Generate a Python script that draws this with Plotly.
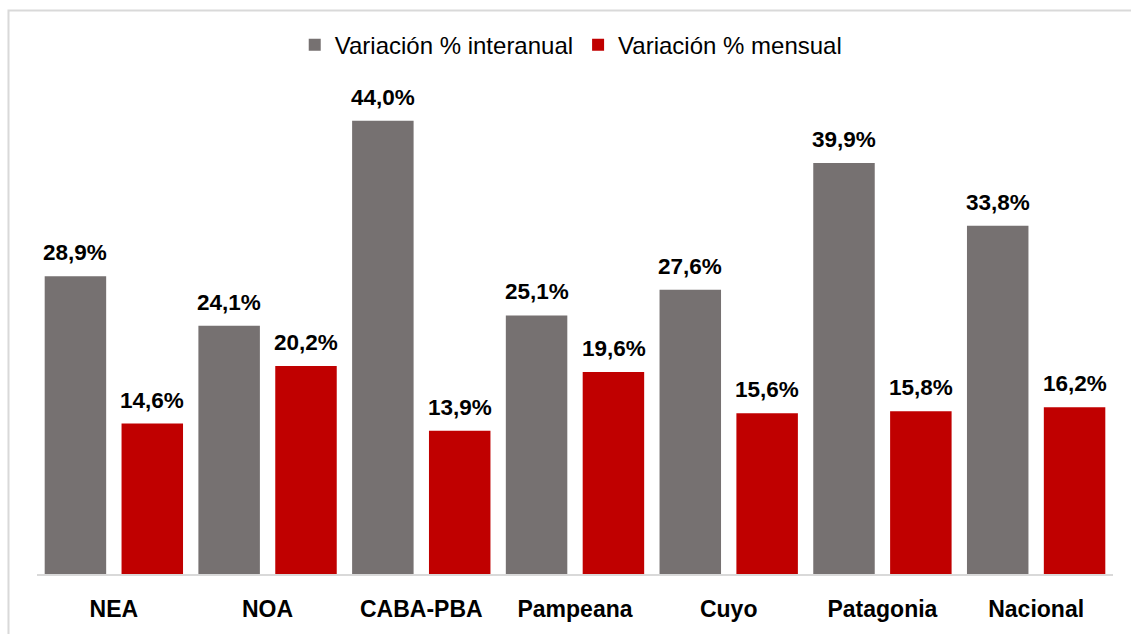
import plotly.graph_objects as go

categories = ["NEA", "NOA", "CABA-PBA", "Pampeana", "Cuyo", "Patagonia", "Nacional"]
interanual = [28.9, 24.1, 44.0, 25.1, 27.6, 39.9, 33.8]
mensual = [14.6, 20.2, 13.9, 19.6, 15.6, 15.8, 16.2]
series_names = ["Variación % interanual", "Variación % mensual"]
colors = ["#767171", "#C00000"]

FONT = "Liberation Sans, Arial, sans-serif"

fig = go.Figure()
for name, vals, col in zip(series_names, [interanual, mensual], colors):
    fig.add_trace(go.Bar(x=categories, y=vals, name=name, marker=dict(color=col, line=dict(width=0))))

def fmt(v):
    return f"{v:.1f}%".replace(".", ",")

annotations = []
for vals, shift in [(interanual, -38.5), (mensual, 38.5)]:
    for c, v in zip(categories, vals):
        annotations.append(dict(x=c, y=v, xref="x", yref="y", text=fmt(v), showarrow=False,
                                yanchor="bottom", xshift=shift, yshift=9,
                                font=dict(family=FONT, size=22.5, color="#000000", weight="bold")))

fig.update_layout(
    width=1131, height=634,
    margin=dict(l=37, r=18, t=60, b=56),
    paper_bgcolor="white", plot_bgcolor="white",
    barmode="group", bargap=0.0, bargroupgap=0.2,
    font=dict(family=FONT, color="#000000"),
    legend=dict(orientation="h", x=0.4965, xanchor="center", y=1.029, yanchor="middle",
                font=dict(family=FONT, size=24, color="#000000"), itemwidth=30),
    annotations=annotations,
    shapes=[dict(type="rect", xref="paper", yref="paper", x0=-0.0265, x1=1.03, y0=-0.2, y1=1.0965,
                 line=dict(color="#D9D9D9", width=2), fillcolor="rgba(0,0,0,0)", layer="below")],
)
fig.update_xaxes(showline=True, linecolor="#D9D9D9", linewidth=2, ticks="", showgrid=False,
                 tickfont=dict(family=FONT, size=23, color="#000000", weight="bold"),
                 ticklabelstandoff=13)
fig.update_yaxes(range=[0, 49.9], visible=False, showgrid=False, zeroline=False)

fig.write_html("out.html", config={"displayModeBar": False},
               post_script="document.body.style.margin='0';")
